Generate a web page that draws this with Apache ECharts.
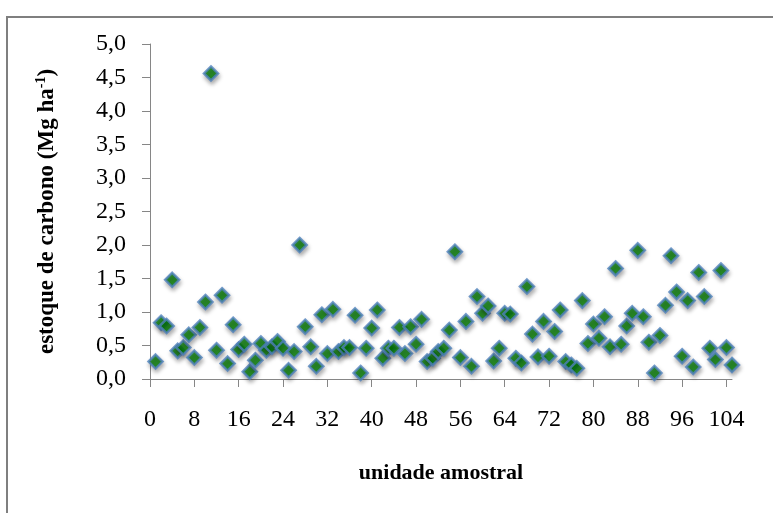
<!DOCTYPE html>
<html>
<head>
<meta charset="utf-8">
<script src="https://cdn.jsdelivr.net/npm/echarts@6/dist/echarts.min.js"></script>
<style>
  html, body { margin: 0; padding: 0; background: #fff; }
  #chart { width: 773px; height: 513px; }
</style>
</head>
<body>
<div id="chart"></div>
<script>
// sampling units (1..105) and their carbon stock (Mg ha-1)
const units = [
  1, 2, 3, 4, 5, 6, 7, 8, 9, 10, 11, 12, 13, 14, 15, 16, 17, 18, 19, 20,
  21, 22, 23, 24, 25, 26, 27, 28, 29, 30, 31, 32, 33, 34, 35, 36, 37, 38, 39, 40,
  41, 42, 43, 44, 45, 46, 47, 48, 49, 50, 51, 52, 53, 54, 55, 56, 57, 58, 59, 60,
  61, 62, 63, 64, 65, 66, 67, 68, 69, 70, 71, 72, 73, 74, 75, 76, 77, 78, 79, 80,
  81, 82, 83, 84, 85, 86, 87, 88, 89, 90, 91, 92, 93, 94, 95, 96, 97, 98, 99, 100,
  101, 102, 103, 104, 105
];
const carbonStock = [
  0.26, 0.84, 0.79, 1.48, 0.42, 0.47, 0.66, 0.32, 0.77, 1.15,
  4.56, 0.43, 1.25, 0.23, 0.81, 0.44, 0.52, 0.11, 0.28, 0.53,
  0.43, 0.48, 0.56, 0.46, 0.13, 0.41, 2.00, 0.78, 0.48, 0.19,
  0.96, 0.38, 1.04, 0.41, 0.47, 0.47, 0.95, 0.09, 0.46, 0.76,
  1.03, 0.31, 0.46, 0.46, 0.77, 0.38, 0.78, 0.52, 0.89, 0.26,
  0.31, 0.41, 0.46, 0.73, 1.90, 0.32, 0.86, 0.19, 1.23, 0.98,
  1.09, 0.27, 0.46, 0.98, 0.97, 0.31, 0.24, 1.38, 0.67, 0.33,
  0.86, 0.34, 0.71, 1.03, 0.26, 0.21, 0.16, 1.17, 0.53, 0.82,
  0.61, 0.93, 0.48, 1.65, 0.52, 0.79, 0.98, 1.92, 0.93, 0.55,
  0.09, 0.65, 1.10, 1.84, 1.30, 0.34, 1.17, 0.18, 1.59, 1.23,
  0.46, 0.29, 1.62, 0.47, 0.21
];
const xTicks = [0, 8, 16, 24, 32, 40, 48, 56, 64, 72, 80, 88, 96, 104];
const yTicks = [0, 0.5, 1, 1.5, 2, 2.5, 3, 3.5, 4, 4.5, 5];

const points = units.map((u, i) => [u, carbonStock[i]]);

const chart = echarts.init(document.getElementById('chart'), null, { renderer: 'canvas' });
const serif = '"Liberation Serif", "Times New Roman", serif';
const axisGray = '#868686';

chart.setOption({
  backgroundColor: '#ffffff',
  animation: false,
  graphic: [{
    type: 'rect',
    shape: { x: 7, y: 17, width: 820, height: 560 },
    style: { fill: 'none', stroke: '#7f7f7f', lineWidth: 2 },
    silent: true
  }],
  grid: { left: 150, right: 41, top: 44, bottom: 134 },
  xAxis: {
    type: 'value',
    min: 0,
    max: 105,
    name: 'unidade amostral',
    nameLocation: 'middle',
    nameGap: 83,
    nameTextStyle: { fontFamily: serif, fontWeight: 'bold', fontSize: 22, color: '#000' },
    axisLine: { show: true, lineStyle: { color: axisGray, width: 1 } },
    axisTick: { show: true, inside: false, length: 8, lineStyle: { color: axisGray }, customValues: xTicks },
    axisLabel: {
      customValues: xTicks,
      margin: 29,
      fontFamily: serif,
      fontSize: 24,
      color: '#000'
    },
    splitLine: { show: false }
  },
  yAxis: {
    type: 'value',
    min: 0,
    max: 5,
    interval: 0.5,
    name: 'estoque de carbono (Mg ha{sup|-1})',
    nameLocation: 'middle',
    nameRotate: 90,
    nameGap: 90,
    nameTextStyle: {
      fontFamily: serif, fontWeight: 'bold', fontSize: 23, color: '#000',
      rich: {
        sup: { fontFamily: serif, fontWeight: 'bold', fontSize: 14, verticalAlign: 'top', padding: [0, 0, 12, 0], color: '#000' }
      }
    },
    axisLine: { show: true, lineStyle: { color: axisGray, width: 1 } },
    axisTick: { show: true, inside: false, length: 8, lineStyle: { color: axisGray } },
    axisLabel: {
      customValues: yTicks,
      margin: 24,
      fontFamily: serif,
      fontSize: 24,
      color: '#000',
      formatter: v => v.toFixed(1).replace('.', ',')
    },
    splitLine: { show: false }
  },
  series: [{
    type: 'scatter',
    data: points,
    symbol: 'diamond',
    symbolSize: 14,
    clip: false,
    itemStyle: {
      color: '#008000',
      borderColor: '#4f81bd',
      borderWidth: 2.5,
      shadowColor: 'rgba(0,0,0,0.35)',
      shadowBlur: 4,
      shadowOffsetX: 1,
      shadowOffsetY: 3
    }
  }]
});
</script>
</body>
</html>
